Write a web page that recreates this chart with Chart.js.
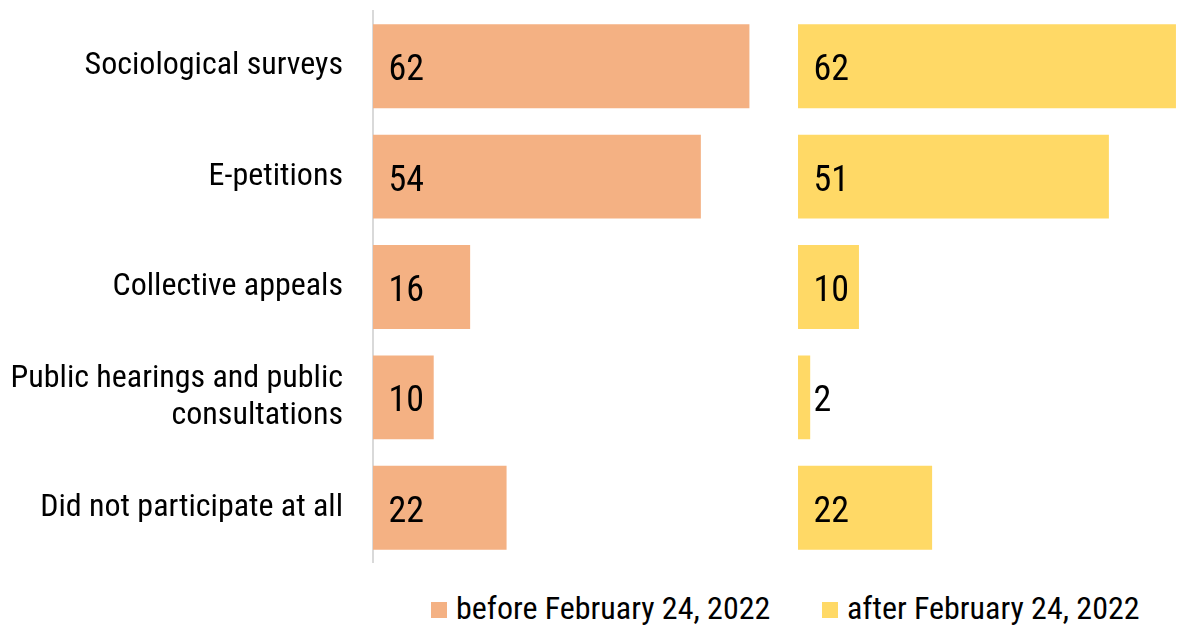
<!DOCTYPE html>
<html>
<head>
<meta charset="utf-8">
<script src="https://cdn.jsdelivr.net/npm/chart.js@4.4.1/dist/chart.umd.min.js"></script>
<style>
  html, body { margin: 0; padding: 0; background: #fff; }
  #wrap { position: relative; width: 1179px; height: 626px; overflow: hidden; }
  #left { position: absolute; left: 0; top: 0; }
  #right { position: absolute; left: 798px; top: 0; }
  .sw { position: absolute; width: 16px; height: 16px; top: 602px; }
  .txt { position: absolute; top: 592px; font-family: "Liberation Sans Narrow", "Roboto Condensed", sans-serif; font-size: 32px; line-height: 32px; color: #000; white-space: nowrap; }
</style>
</head>
<body>
<div id="wrap">
  <div id="left"><canvas id="c1" width="798" height="563"></canvas></div>
  <div id="right"><canvas id="c2" width="381" height="563"></canvas></div>
  <div id="legend"></div>
</div>
<script>
const categories = [
  "Sociological surveys",
  "E-petitions",
  "Collective appeals",
  ["Public hearings and public", "consultations"],
  "Did not participate at all"
];
const beforeValues = [62, 54, 16, 10, 22];
const afterValues = [62, 51, 10, 2, 22];
const seriesNames = ["before February 24, 2022", "after February 24, 2022"];
const seriesColors = ["#F4B183", "#FFD966"];

const FONT = '"Liberation Sans Narrow", "Roboto Condensed", sans-serif';

// legend (HTML text)
const legend = document.getElementById('legend');
const swX = [431, 822], txtX = [456, 847];
seriesNames.forEach((name, i) => {
  const sw = document.createElement('div');
  sw.className = 'sw';
  sw.style.left = swX[i] + 'px';
  sw.style.background = seriesColors[i];
  legend.appendChild(sw);
  const t = document.createElement('div');
  t.className = 'txt';
  t.style.left = txtX[i] + 'px';
  t.textContent = name;
  legend.appendChild(t);
});

const labelPlugin = {
  id: 'barLabels',
  afterDatasetsDraw(chart) {
    const ctx = chart.ctx;
    ctx.save();
    ctx.font = '36px ' + FONT;
    ctx.fillStyle = '#000';
    ctx.textAlign = 'left';
    ctx.textBaseline = 'alphabetic';
    chart.data.datasets.forEach((ds, di) => {
      const meta = chart.getDatasetMeta(di);
      meta.data.forEach((bar, i) => {
        ctx.fillText(String(ds.data[i]), bar.base + 15.5, bar.y + 14);
      });
    });
    ctx.restore();
  }
};

function makeChart(id, values, color, xMax, showY) {
  const yScale = {
    display: showY,
    grid: { display: false, drawTicks: false },
    border: { display: showY, color: '#D9D9D9', width: 2 },
    ticks: { color: '#000', font: { family: FONT, size: 32, lineHeight: 1.15 }, padding: 30, crossAlign: 'near' }
  };
  if (showY) {
    yScale.afterFit = function (scale) {
      scale.width = 373;
      scale.paddingTop = 0;
      scale.paddingBottom = 0;
    };
  }
  return new Chart(document.getElementById(id), {
    type: 'bar',
    data: {
      labels: categories,
      datasets: [{ data: values, backgroundColor: color, borderWidth: 0, barPercentage: 0.76, categoryPercentage: 1 }]
    },
    options: {
      indexAxis: 'y',
      responsive: false,
      animation: false,
      layout: { padding: { top: 11, bottom: 0, left: 0, right: 0 } },
      plugins: { legend: { display: false }, tooltip: { enabled: false } },
      scales: {
        x: { display: false, min: 0, max: xMax },
        y: yScale
      }
    },
    plugins: [labelPlugin]
  });
}

makeChart('c1', beforeValues, seriesColors[0], 70, true);
makeChart('c2', afterValues, seriesColors[1], 62.5, false);
</script>
</body>
</html>
